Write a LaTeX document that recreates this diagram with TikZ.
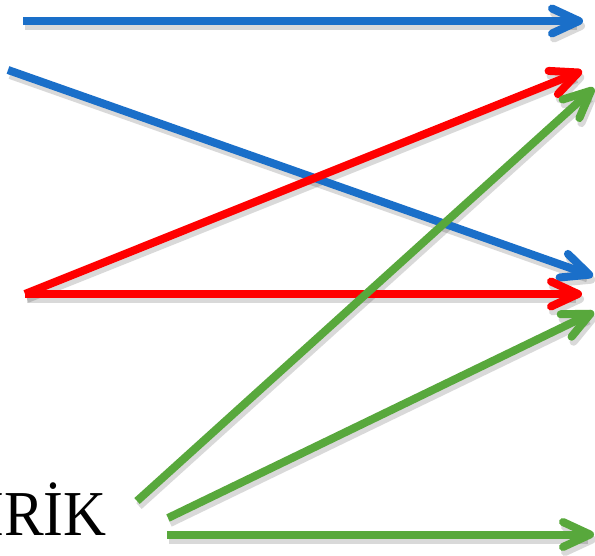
\documentclass[tikz,border=0pt]{standalone}
\usepackage{fontspec}
\setmainfont{Liberation Serif}
\usetikzlibrary{arrows.meta}
\definecolor{ablue}{HTML}{1A6FC9}
\definecolor{ared}{HTML}{FF0000}
\definecolor{agreen}{HTML}{58A83C}
\begin{document}
\begin{tikzpicture}[x=1pt,y=-1pt,
  arr/.style={line width=8pt, line cap=butt, -{Straight Barb[length=27pt,width=25pt,round]}},
  shad/.style={arr, draw=black, opacity=0.15, transform canvas={shift={(2,5)}}},
  lbl/.style={font=\fontsize{64}{64}\selectfont, inner sep=0pt, anchor=base east}]
\useasboundingbox (0,0) rectangle (595,556);
\fill[white] (0,0) rectangle (595,556);
\coordinate (b1s) at (23,21);  \coordinate (b1e) at (583,21);
\coordinate (b2s) at (8,70);   \coordinate (b2e) at (593,276);
\coordinate (r1s) at (25,294); \coordinate (r1e) at (582,71);
\coordinate (r2s) at (25,294); \coordinate (r2e) at (582,294);
\coordinate (g1s) at (137,501); \coordinate (g1e) at (594,88);
\coordinate (g2s) at (168,518); \coordinate (g2e) at (594,312);
\coordinate (g3s) at (167,534.5); \coordinate (g3e) at (594,534.5);
\foreach \s/\e in {b1s/b1e,b2s/b2e,r1s/r1e,r2s/r2e,g1s/g1e,g2s/g2e,g3s/g3e}
  \draw[shad] (\s) -- (\e);
\draw[arr, ablue] (b1s) -- (b1e);
\draw[arr, ablue] (b2s) -- (b2e);
\draw[arr, ared] (r1s) -- (r1e);
\draw[arr, ared] (r2s) -- (r2e);
\draw[arr, agreen] (g1s) -- (g1e);
\draw[arr, agreen] (g2s) -- (g2e);
\draw[arr, agreen] (g3s) -- (g3e);
\node[lbl] (word) at (107,535) {\scalebox{0.93}[1]{İRİK}};
\end{tikzpicture}
\end{document}
